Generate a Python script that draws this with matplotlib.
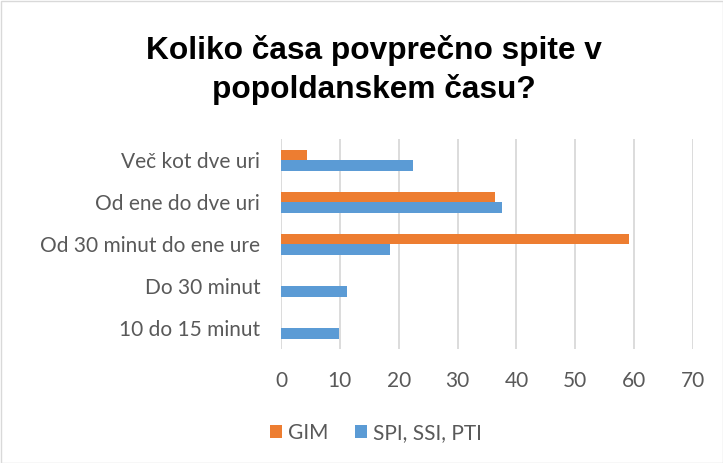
import matplotlib
matplotlib.use("Agg")
import matplotlib.pyplot as plt
import numpy as np

categories = ["Več kot dve uri", "Od ene do dve uri", "Od 30 minut do ene ure", "Do 30 minut", "10 do 15 minut"]
gim = [4.4, 36.4, 59.1, 0, 0]
spi = [22.4, 37.5, 18.6, 11.2, 9.9]
xticks = [0, 10, 20, 30, 40, 50, 60, 70]
title = "Koliko časa povprečno spite v\npopoldanskem času?"

W, H = 723, 463
fig = plt.figure(figsize=(W/100, H/100), dpi=100)
# plot area in pixels: x 281..693, y 139..349
ax = fig.add_axes([281/W, 1-349/H, (693-281)/W, (349-139)/H])

y = np.arange(len(categories))
bh = 0.25
ax.barh(y - bh/2, gim, height=bh, color="#ED7D31", label="GIM", zorder=3)
ax.barh(y + bh/2, spi, height=bh, color="#5B9BD5", label="SPI, SSI, PTI", zorder=3)
ax.set_ylim(len(categories) - 0.5, -0.5)
ax.set_xlim(0, 70)
ax.set_xticks(xticks)
ax.set_yticks(y)
ax.set_yticklabels(categories)
ax.grid(axis="x", color="#d9d9d9", linewidth=1.3, zorder=0)
for s in ax.spines.values():
    s.set_visible(False)
ax.tick_params(axis="both", length=0, labelsize=15, labelcolor="#595959")
ax.tick_params(axis="x", pad=16)
ax.tick_params(axis="y", pad=15)
for lab in ax.get_xticklabels() + ax.get_yticklabels():
    lab.set_family(["Lato", "DejaVu Sans"])

fig.text(374/W, 1-70/H, title, ha="center", va="center", fontsize=22.8, fontweight="bold",
         family=["Liberation Sans", "DejaVu Sans"], linespacing=1.32, color="black")

leg = fig.legend(loc="center", bbox_to_anchor=(376/W, 1-433/H), ncol=2, frameon=False,
                 prop={"family": ["Lato", "DejaVu Sans"], "size": 15},
                 handlelength=0.55, handleheight=0.55, handletextpad=0.3, columnspacing=1.3)
for t in leg.get_texts():
    t.set_color("#595959")

border = plt.Rectangle((0.5/W, 0.5/H), 1-1/W, 1-1/H, transform=fig.transFigure,
                       fill=False, edgecolor="#d9d9d9", linewidth=1)
fig.add_artist(border)

fig.savefig("out.png", dpi=100)
